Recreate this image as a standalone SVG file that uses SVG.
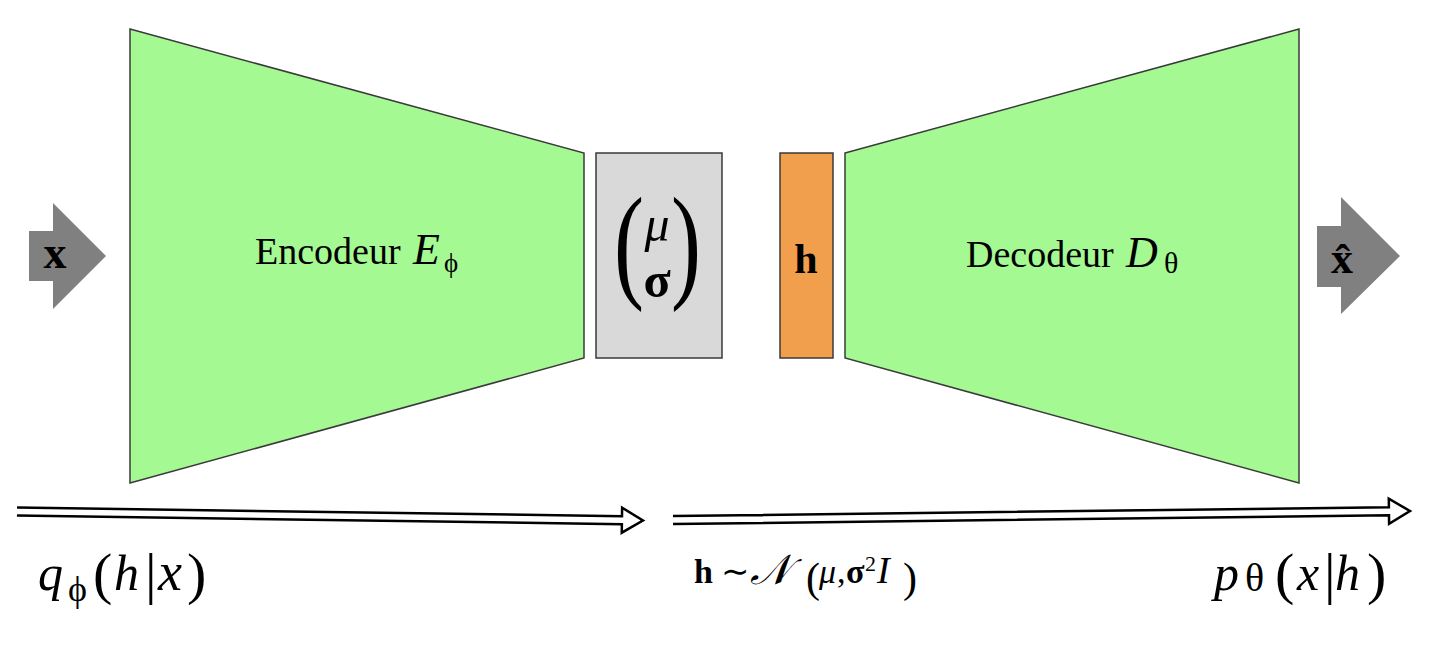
<svg xmlns="http://www.w3.org/2000/svg" width="1432" height="654" viewBox="0 0 1432 654">
<style>
.serif{font-family:"Liberation Serif","Times New Roman",serif;fill:#000}
.script{font-family:"DejaVu Serif","Liberation Serif",serif;fill:#000}
.it{font-style:italic}
.b{font-weight:bold}
.net{fill:#a4f993;stroke:#3a3a3a;stroke-width:1.5}
.io{fill:#808080;stroke:none}
.flow{fill:#fff;stroke:#000;stroke-width:2.5;stroke-linejoin:miter}
</style>
<rect width="1432" height="654" fill="#fff"/>
<g id="input-x">
<polygon class="io" points="29,231 53,231 53,203 106,256 53,309 53,281 29,281"/>
<text class="serif b" x="55" y="268" font-size="46" text-anchor="middle">x</text>
</g>
<g id="encoder">
<polygon class="net" points="130,29 584,153 584,358 130,483"/>
<text class="serif" x="255" y="264" font-size="38">Encodeur</text>
<text class="serif it" x="413" y="264" font-size="44">E</text>
<text class="serif" x="444" y="272" font-size="27">ϕ</text>
</g>
<g id="latent-params">
<rect x="596" y="153" width="126" height="205" fill="#d9d9d9" stroke="#3a3a3a" stroke-width="1.5"/>
<text class="serif" x="614" y="200.1" font-size="90" transform="scale(1,1.423)">(</text>
<text class="serif" x="671" y="200.1" font-size="90" transform="scale(1,1.423)">)</text>
<text class="serif it" x="657" y="241" font-size="50" text-anchor="middle">μ</text>
<text class="serif b" x="657" y="297" font-size="50" text-anchor="middle">σ</text>
</g>
<g id="latent-h">
<rect x="780" y="153" width="53" height="205" fill="#f29f4d" stroke="#3a3a3a" stroke-width="1.5"/>
<text class="serif b" x="806" y="273" font-size="42" text-anchor="middle">h</text>
</g>
<g id="decoder">
<polygon class="net" points="845,153 1299,29 1299,483 845,358"/>
<text class="serif" x="966" y="267" font-size="38">Decodeur</text>
<text class="serif it" x="1126" y="267" font-size="44">D</text>
<text class="serif" x="1164" y="273" font-size="30">θ</text>
</g>
<g id="output-xhat">
<polygon class="io" points="1317,226 1341,226 1341,197 1400,256 1341,314 1341,287 1317,287"/>
<text class="serif b" x="1342" y="273" font-size="44" text-anchor="middle">x̂</text>
</g>
<g id="connectors">
<polyline class="flow" transform="translate(17,511.5) rotate(0.824)" points="0,-4 605,-4 605,-12.5 626,0 605,12.5 605,4 0,4"/>
<polyline class="flow" transform="translate(673,520) rotate(-0.70)" points="0,-4 716,-4 716,-12.5 737,0 716,12.5 716,4 0,4"/>
</g>
<g id="label-q">
<text class="serif it" x="38" y="590" font-size="50">q</text>
<text class="serif" x="68" y="601" font-size="36">ϕ</text>
<text class="serif" x="93" y="593" font-size="58">(</text>
<text class="serif it" x="114" y="590" font-size="50">h</text>
<text class="serif" x="145" y="593" font-size="58">|</text>
<text class="serif it" x="158" y="590" font-size="54">x</text>
<text class="serif" x="187" y="593" font-size="58">)</text>
</g>
<g id="label-h">
<text class="serif b" x="694" y="583" font-size="34">h</text>
<text class="serif" x="721" y="583" font-size="34">∼</text>
<text class="script it" x="750" y="584" font-size="42">𝒩</text>
<text class="serif" x="806" y="592" font-size="42">(</text>
<text class="serif it" x="819" y="583" font-size="34">μ</text>
<text class="serif" x="837" y="583" font-size="34">,</text>
<text class="serif b" x="846" y="583" font-size="34">σ</text>
<text class="serif" x="865" y="571" font-size="22">2</text>
<text class="serif it" x="877" y="583" font-size="38">I</text>
<text class="serif" x="903" y="592" font-size="42">)</text>
</g>
<g id="label-p">
<text class="serif it" x="1214" y="590" font-size="50">p</text>
<text class="serif" x="1245" y="591" font-size="40">θ</text>
<text class="serif" x="1275" y="593" font-size="58">(</text>
<text class="serif it" x="1297" y="590" font-size="50">x</text>
<text class="serif" x="1324" y="593" font-size="58">|</text>
<text class="serif it" x="1335" y="590" font-size="50">h</text>
<text class="serif" x="1367" y="593" font-size="58">)</text>
</g>
</svg>
